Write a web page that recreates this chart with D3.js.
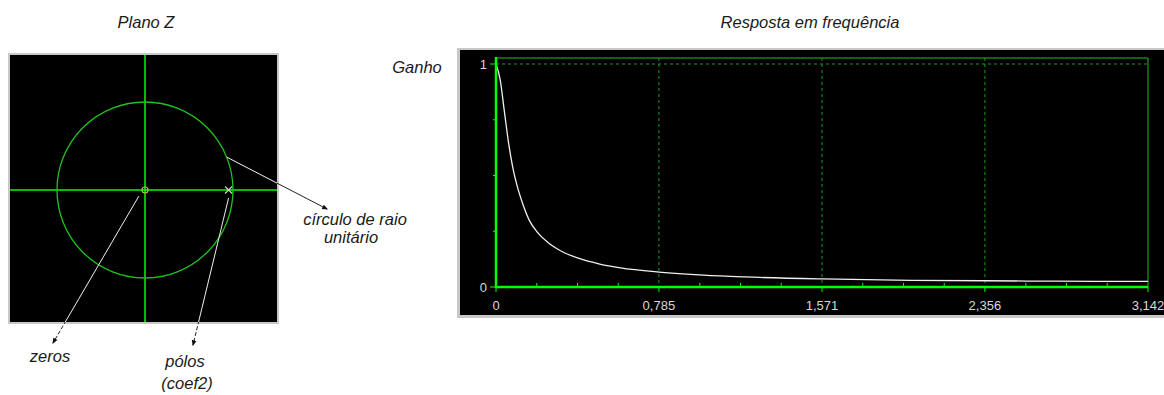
<!DOCTYPE html>
<html>
<head>
<meta charset="utf-8">
<script src="https://cdn.jsdelivr.net/npm/d3@7"></script>
<style>
  body { margin: 0; background: #fff; }
  svg { display: block; }
  .ttl { font-family: "Liberation Sans", Arial, sans-serif; font-style: italic; font-size: 16.5px; fill: #1a1a1a; }
  .tick-lbl { font-family: "Liberation Sans", Arial, sans-serif; font-size: 13px; fill: #d8d8d8; }
</style>
</head>
<body>
<svg id="chart" width="1164" height="395"></svg>
<script>
// frequency response
const freqW = [0, 0.02, 0.04, 0.06, 0.08, 0.1, 0.13, 0.16, 0.2, 0.25, 0.3, 0.4, 0.5, 0.6,
  0.785, 1.0, 1.2, 1.571, 2.0, 2.356, 2.7, 3.142];
const gain = [1, 0.93, 0.79, 0.65, 0.54, 0.46, 0.37, 0.3, 0.245, 0.2, 0.168, 0.128, 0.103, 0.086,
  0.067, 0.053, 0.045, 0.036, 0.03, 0.028, 0.026, 0.025];
const xTicks = [0, 0.785, 1.571, 2.356, 3.142];
const xTickLabels = ['0', '0,785', '1,571', '2,356', '3,142'];
const yTicks = [0, 1];
const yTickLabels = ['0', '1'];

// z-plane
const zeros = [[0, 0]];
const poles = [[0.95, 0]];

const svg = d3.select('#chart');

// ---------- Plano Z ----------
const zx = d3.scaleLinear().domain([-1, 1]).range([57, 233]);
const zy = d3.scaleLinear().domain([-1, 1]).range([278, 102]);

svg.append('text').attr('class', 'ttl').attr('x', 146).attr('y', 28)
  .attr('text-anchor', 'middle').text('Plano Z');

svg.append('rect').attr('x', 8).attr('y', 53).attr('width', 271).attr('height', 271)
  .attr('fill', '#c8c8c8');
svg.append('rect').attr('x', 10).attr('y', 55).attr('width', 267).attr('height', 267)
  .attr('fill', '#000');

const zg = svg.append('g');
zg.append('line').attr('x1', 10).attr('x2', 277).attr('y1', zy(0)).attr('y2', zy(0))
  .attr('stroke', '#00ff00').attr('stroke-width', 1.5);
zg.append('line').attr('x1', zx(0)).attr('x2', zx(0)).attr('y1', 55).attr('y2', 322)
  .attr('stroke', '#00ff00').attr('stroke-width', 1.5);
zg.append('circle').attr('cx', zx(0)).attr('cy', zy(0)).attr('r', zx(1) - zx(0))
  .attr('fill', 'none').attr('stroke', '#1fc21f').attr('stroke-width', 1.3);

zg.selectAll('.zero').data(zeros).enter().append('circle')
  .attr('cx', d => zx(d[0])).attr('cy', d => zy(d[1])).attr('r', 3)
  .attr('fill', 'none').attr('stroke', '#b8c020').attr('stroke-width', 1.2);

zg.selectAll('.pole').data(poles).enter().append('path')
  .attr('d', d => {
    const cx = zx(d[0]), cy = zy(d[1]), s = 3.5;
    return `M${cx - s},${cy - s}L${cx + s},${cy + s}M${cx - s},${cy + s}L${cx + s},${cy - s}`;
  })
  .attr('stroke', '#cfcfcf').attr('stroke-width', 1.2);

// annotations
const defs = svg.append('defs');
defs.append('clipPath').attr('id', 'zclip').append('rect')
  .attr('x', 10).attr('y', 55).attr('width', 267).attr('height', 267);
defs.append('marker').attr('id', 'arr').attr('viewBox', '0 0 10 10')
  .attr('refX', 8).attr('refY', 5).attr('markerWidth', 6).attr('markerHeight', 6)
  .attr('orient', 'auto').append('path').attr('d', 'M0,1L10,5L0,9Z').attr('fill', '#111');

const ang = 22 * Math.PI / 180;
const notes = [
  { from: [zx(Math.cos(ang)), zy(Math.sin(ang))], to: [327, 209], dash: null },
  { from: [zx(-0.07), zy(-0.07)], to: [53, 343], dash: '4,2' },
  { from: [zx(0.95), zy(-0.09)], to: [193, 345], dash: '4,2' }
];
notes.forEach(n => {
  svg.append('line').attr('x1', n.from[0]).attr('y1', n.from[1]).attr('x2', n.to[0]).attr('y2', n.to[1])
    .attr('stroke', '#222').attr('stroke-width', 1).attr('stroke-dasharray', n.dash)
    .attr('marker-end', 'url(#arr)');
  svg.append('line').attr('x1', n.from[0]).attr('y1', n.from[1]).attr('x2', n.to[0]).attr('y2', n.to[1])
    .attr('stroke', '#e8e8e8').attr('stroke-width', 1).attr('clip-path', 'url(#zclip)');
});

svg.append('text').attr('class', 'ttl').attr('x', 355).attr('y', 225).attr('text-anchor', 'middle').text('círculo de raio');
svg.append('text').attr('class', 'ttl').attr('x', 351).attr('y', 243).attr('text-anchor', 'middle').text('unitário');
svg.append('text').attr('class', 'ttl').attr('x', 50).attr('y', 362).attr('text-anchor', 'middle').text('zeros');
svg.append('text').attr('class', 'ttl').attr('x', 185).attr('y', 367).attr('text-anchor', 'middle').text('pólos');
svg.append('text').attr('class', 'ttl').attr('x', 187).attr('y', 389).attr('text-anchor', 'middle').text('(coef2)');

// ---------- Resposta em frequência ----------
const x = d3.scaleLinear().domain([0, 3.142]).range([496, 1148]);
const y = d3.scaleLinear().domain([0, 1]).range([287, 64]);

svg.append('text').attr('class', 'ttl').attr('x', 810).attr('y', 28)
  .attr('text-anchor', 'middle').text('Resposta em frequência');
svg.append('text').attr('class', 'ttl').attr('x', 417).attr('y', 73)
  .attr('text-anchor', 'middle').text('Ganho');

svg.append('rect').attr('x', 457).attr('y', 48).attr('width', 720).attr('height', 270)
  .attr('fill', '#c8c8c8');
svg.append('rect').attr('x', 460).attr('y', 50).attr('width', 720).attr('height', 265)
  .attr('fill', '#000');

const g = svg.append('g');

// dashed grid
g.selectAll('.vgrid').data(xTicks.slice(1, -1)).enter().append('line')
  .attr('x1', d => x(d)).attr('x2', d => x(d)).attr('y1', 58).attr('y2', y(0))
  .attr('stroke', '#1a9a1a').attr('stroke-dasharray', '3,3');
g.append('line').attr('x1', x(0)).attr('x2', x(3.142)).attr('y1', y(1)).attr('y2', y(1))
  .attr('stroke', '#1a9a1a').attr('stroke-dasharray', '3,3');

// frame lines
g.append('line').attr('x1', x(0)).attr('x2', x(3.142)).attr('y1', 58).attr('y2', 58)
  .attr('stroke', '#1fbf1f').attr('stroke-width', 1);
g.append('line').attr('x1', x(3.142)).attr('x2', x(3.142)).attr('y1', 58).attr('y2', y(0))
  .attr('stroke', '#1fbf1f').attr('stroke-width', 1);

// curve
g.append('path').datum(freqW.map((w, i) => [w, gain[i]]))
  .attr('d', d3.line().x(d => x(d[0])).y(d => y(d[1])).curve(d3.curveMonotoneX))
  .attr('fill', 'none').attr('stroke', '#f0f0f0').attr('stroke-width', 1.3);

// axes
g.append('line').attr('x1', x(0)).attr('x2', x(0)).attr('y1', 57).attr('y2', y(0) + 1)
  .attr('stroke', '#00ff00').attr('stroke-width', 2.5);
g.append('line').attr('x1', x(0)).attr('x2', x(3.142)).attr('y1', y(0)).attr('y2', y(0))
  .attr('stroke', '#00ff00').attr('stroke-width', 2.5);

// minor ticks
const minorX = d3.range(0, 17).map(i => i * 3.142 / 16).filter((d, i) => i % 4 !== 0);
g.selectAll('.mx').data(minorX).enter().append('line')
  .attr('x1', d => x(d)).attr('x2', d => x(d)).attr('y1', y(0) - 4).attr('y2', y(0))
  .attr('stroke', '#00ff00').attr('stroke-width', 1);
g.selectAll('.my').data([0.25, 0.5, 0.75]).enter().append('line')
  .attr('x1', x(0) - 3).attr('x2', x(0)).attr('y1', d => y(d)).attr('y2', d => y(d))
  .attr('stroke', '#00ff00').attr('stroke-width', 1);

// major ticks
g.selectAll('.tx').data(xTicks).enter().append('line')
  .attr('x1', d => x(d)).attr('x2', d => x(d)).attr('y1', y(0)).attr('y2', y(0) + 5)
  .attr('stroke', '#00ff00').attr('stroke-width', 1);
g.selectAll('.ty').data(yTicks).enter().append('line')
  .attr('x1', x(0) - 6).attr('x2', x(0)).attr('y1', d => y(d)).attr('y2', d => y(d))
  .attr('stroke', '#00ff00').attr('stroke-width', 1);

g.selectAll('.lx').data(xTicks).enter().append('text').attr('class', 'tick-lbl')
  .attr('x', d => x(d)).attr('y', 310).attr('text-anchor', 'middle')
  .text((d, i) => xTickLabels[i]);
g.selectAll('.ly').data(yTicks).enter().append('text').attr('class', 'tick-lbl')
  .attr('x', x(0) - 9).attr('y', d => y(d) + 5).attr('text-anchor', 'end')
  .text((d, i) => yTickLabels[i]);
</script>
</body>
</html>
